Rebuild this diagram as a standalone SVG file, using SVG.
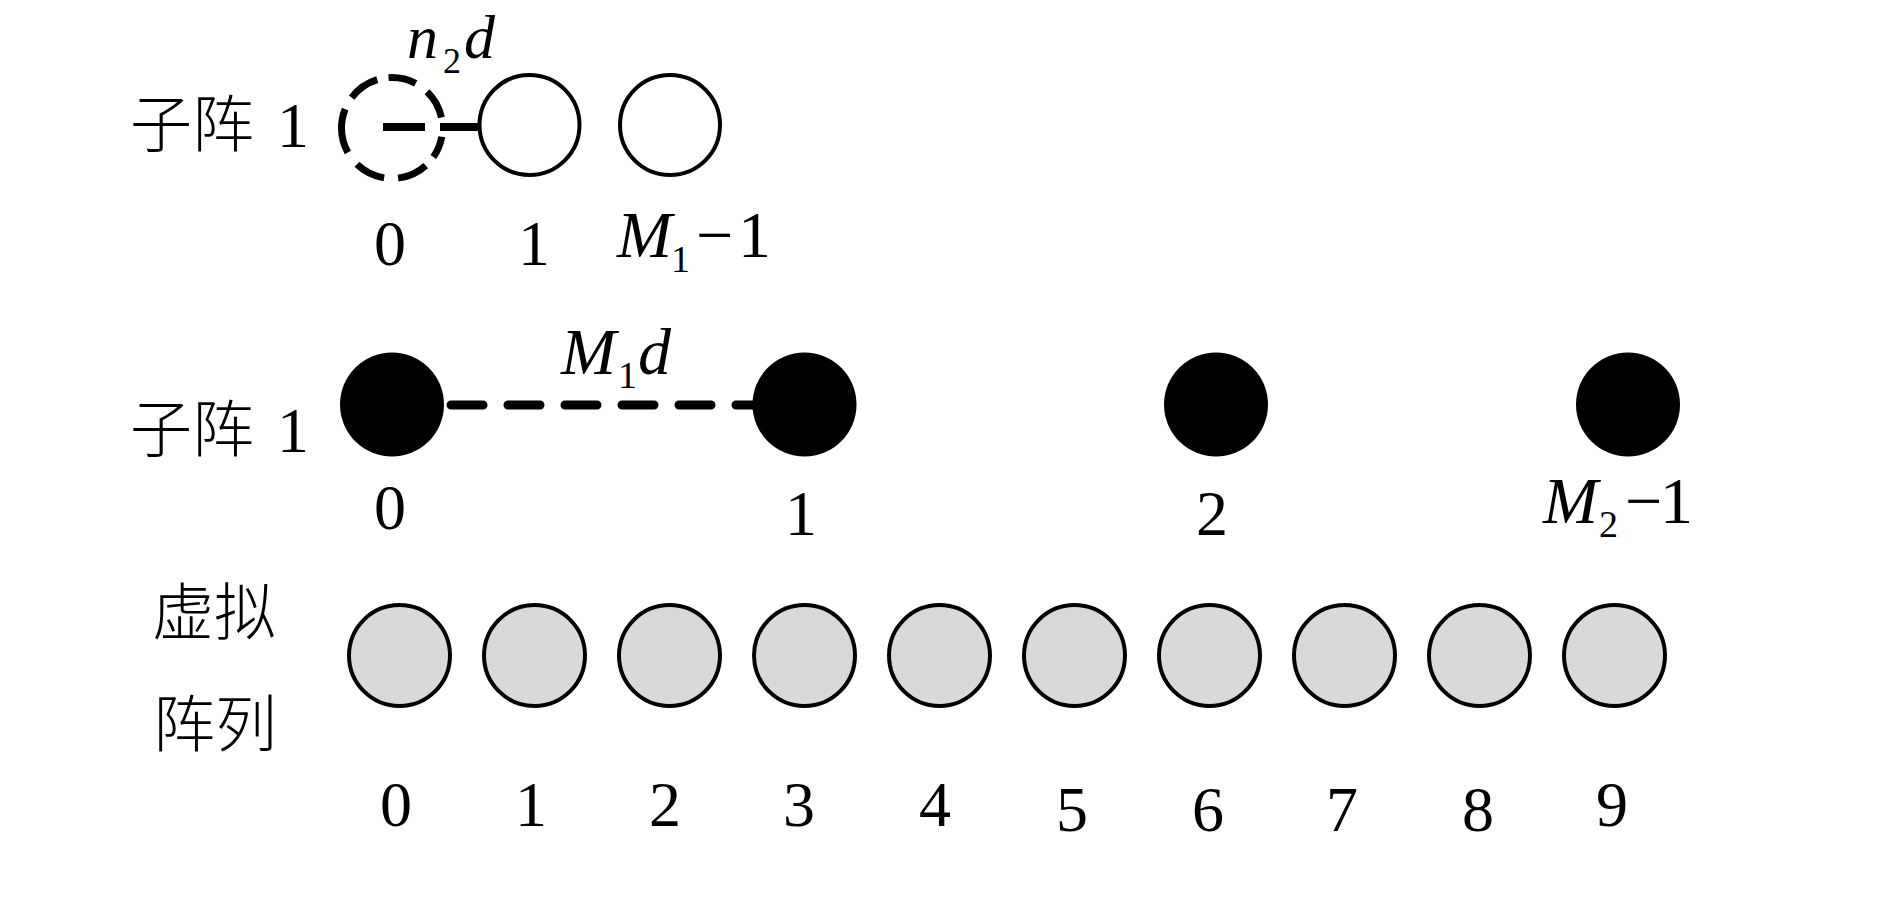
<svg xmlns="http://www.w3.org/2000/svg" width="1890" height="905" viewBox="0 0 1890 905">
<style>
.t{font-family:"Liberation Serif","Noto Sans CJK SC",serif;fill:#000}
.cjk{font-size:62px;font-weight:300}
.num{font-size:64px;text-anchor:middle}
.it{font-style:italic;font-size:66px}
.sub{font-size:38px;font-style:normal}
.open{fill:#fff;stroke:#000;stroke-width:4}
.solid{fill:#000}
.grey{fill:#d9d9d9;stroke:#000;stroke-width:4}
.conn{stroke:#000;fill:none}
</style>
<rect width="1890" height="905" fill="#fff"/>

<g id="connectors">
  <path class="conn" d="M383,127 H425 M440,127 H480 M489,126 H533" stroke-width="8"/>
  <line class="conn" x1="451" y1="405" x2="770" y2="405" stroke-width="9" stroke-linecap="round" stroke-dasharray="32 25"/>
</g>

<!-- row 1 -->
<g id="label-row1">
  <text class="t cjk" x="130" y="147">子阵 <tspan x="277" font-size="64" font-weight="400">1</tspan></text>
</g>
<g id="row1-elem0">
  <circle cx="392" cy="128" r="50.5" fill="none" stroke="#000" stroke-width="7" pathLength="360" stroke-dasharray="25 13 35 16 35 17 51 15 36 13 32 16 34 22" stroke-dashoffset="-10"/>
  <text class="t num" x="390" y="265">0</text>
</g>
<g id="row1-elem1">
  <circle class="open" cx="529.5" cy="125" r="50" fill="none"/>
  <text class="t num" x="534" y="265">1</text>
</g>
<g id="row1-elem2">
  <circle class="open" cx="670" cy="125" r="50"/>
  <text class="t it" x="617" y="257">M<tspan class="sub" x="671" y="272">1</tspan><tspan x="696" y="257" font-style="normal">−</tspan><tspan x="738" y="257" font-style="normal">1</tspan></text>
</g>
<g id="label-n2d">
  <text class="t" x="407" y="58" font-size="62" font-style="italic">n<tspan x="443" y="73" font-size="36" font-style="normal">2</tspan><tspan x="464" y="58">d</tspan></text>
</g>

<!-- row 2 -->
<g id="label-row2">
  <text class="t cjk" x="130" y="452">子阵 <tspan x="277" font-size="64" font-weight="400">1</tspan></text>
</g>
<g id="row2-elem0">
  <circle class="solid" cx="392" cy="404.5" r="52"/>
  <text class="t num" x="390" y="529">0</text>
</g>
<g id="row2-elem1">
  <circle class="solid" cx="804.5" cy="404.5" r="52"/>
  <text class="t num" x="801" y="535">1</text>
</g>
<g id="row2-elem2">
  <circle class="solid" cx="1216" cy="404.5" r="52"/>
  <text class="t num" x="1212" y="535">2</text>
</g>
<g id="row2-elem3">
  <circle class="solid" cx="1628" cy="404.5" r="52"/>
  <text class="t it" x="1543" y="523">M<tspan class="sub" x="1599" y="537">2</tspan><tspan x="1625" y="523" font-style="normal">−</tspan><tspan x="1660" y="523" font-style="normal">1</tspan></text>
</g>
<g id="label-M1d">
  <text class="t it" x="561" y="374">M<tspan class="sub" x="618" y="388">1</tspan><tspan x="638" y="374">d</tspan></text>
</g>

<!-- row 3 -->
<g id="label-row3">
  <text class="t cjk" x="152" y="635">虚拟</text>
  <text class="t cjk" x="153" y="747">阵列</text>
</g>
<g id="v0"><circle class="grey" cx="399.5" cy="655.5" r="50.5"/><text class="t num" x="396" y="826">0</text></g>
<g id="v1"><circle class="grey" cx="534.5" cy="655.5" r="50.5"/><text class="t num" x="531" y="826">1</text></g>
<g id="v2"><circle class="grey" cx="669.5" cy="655.5" r="50.5"/><text class="t num" x="665" y="826">2</text></g>
<g id="v3"><circle class="grey" cx="804.5" cy="655.5" r="50.5"/><text class="t num" x="799" y="826">3</text></g>
<g id="v4"><circle class="grey" cx="939.5" cy="655.5" r="50.5"/><text class="t num" x="935" y="826">4</text></g>
<g id="v5"><circle class="grey" cx="1074.5" cy="655.5" r="50.5"/><text class="t num" x="1072" y="831">5</text></g>
<g id="v6"><circle class="grey" cx="1209.5" cy="655.5" r="50.5"/><text class="t num" x="1208" y="831">6</text></g>
<g id="v7"><circle class="grey" cx="1344.5" cy="655.5" r="50.5"/><text class="t num" x="1342" y="831">7</text></g>
<g id="v8"><circle class="grey" cx="1479.5" cy="655.5" r="50.5"/><text class="t num" x="1478" y="831">8</text></g>
<g id="v9"><circle class="grey" cx="1614.5" cy="655.5" r="50.5"/><text class="t num" x="1612" y="826">9</text></g>
</svg>
